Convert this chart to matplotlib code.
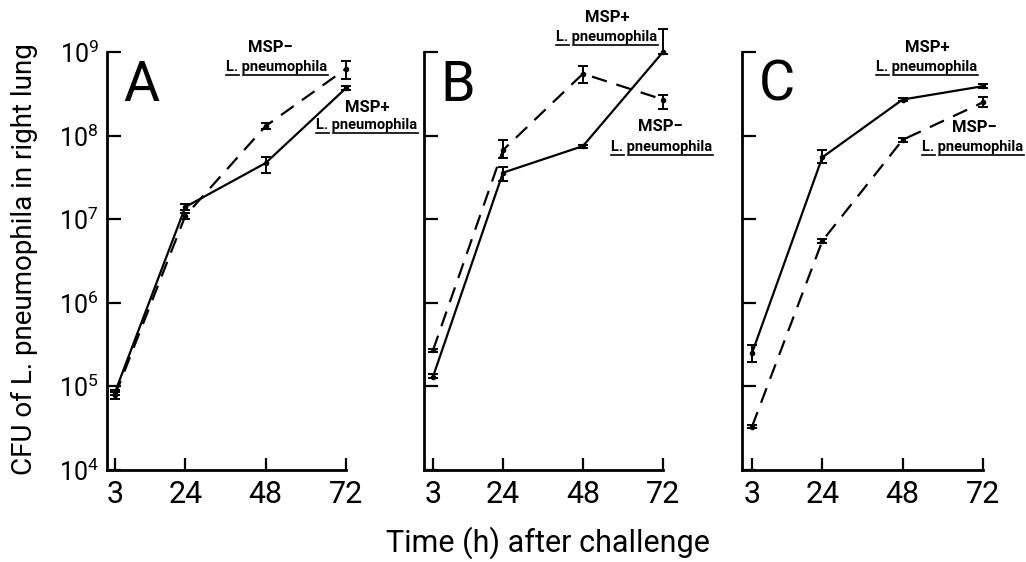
import numpy as np
import matplotlib
matplotlib.use("Agg")
import matplotlib.pyplot as plt
from matplotlib.lines import Line2D

plt.rcParams['font.family'] = ['Roboto', 'DejaVu Sans']
plt.rcParams['mathtext.fontset'] = 'custom'
plt.rcParams['mathtext.rm'] = 'Roboto'
plt.rcParams['mathtext.it'] = 'Roboto'

# temps (h) apres l'infection
hours = [3, 24, 48, 72]

# Panel A
a_plus = [8.5e4, 1.4e7, 4.7e7, 3.7e8]
a_plus_lo = [8.0e4, 1.3e7, 3.6e7, 3.5e8]
a_plus_hi = [9.0e4, 1.5e7, 5.5e7, 3.9e8]
a_minus = [7.8e4, 1.1e7, 1.3e8, 6.3e8]
a_minus_lo = [7.0e4, 1.0e7, 1.2e8, 4.8e8]
a_minus_hi = [8.6e4, 1.2e7, 1.4e8, 7.8e8]

# Panel B
b_plus = [1.3e5, 3.6e7, 7.5e7, 1.0e9]
b_plus_lo = [1.25e5, 2.9e7, 7.2e7, 0.95e9]
b_plus_hi = [1.4e5, 4.2e7, 7.8e7, 1.9e9]
b_minus = [2.7e5, 6.7e7, 5.5e8, 2.7e8]
b_minus_lo = [2.6e5, 5.4e7, 4.2e8, 2.1e8]
b_minus_hi = [2.8e5, 8.9e7, 6.8e8, 3.1e8]

# Panel C
c_plus = [2.5e5, 5.5e7, 2.7e8, 3.9e8]
c_plus_lo = [1.95e5, 4.7e7, 2.6e8, 3.7e8]
c_plus_hi = [3.1e5, 6.7e7, 2.85e8, 4.1e8]
c_minus = [3.3e4, 5.5e6, 8.9e7, 2.5e8]
c_minus_lo = [3.2e4, 5.2e6, 8.5e7, 2.2e8]
c_minus_hi = [3.45e4, 5.8e6, 9.3e7, 2.9e8]

panel_letters = ['A', 'B', 'C']
y_ticks = [1e4, 1e5, 1e6, 1e7, 1e8, 1e9]
y_ticklabels = [r'$10^{%d}$' % k for k in range(4, 10)]

W, H = 1026, 562
fig = plt.figure(figsize=(W / 100, H / 100), dpi=100)

lefts = [107, 424, 742]
widths = [239, 239, 241]
offsets = [8, 9, 10]  # distance axe -> graduation 3 h, en px
top_px, bot_px = 52, 470

panels = [
    (a_plus, a_plus_lo, a_plus_hi, a_minus, a_minus_lo, a_minus_hi),
    (b_plus, b_plus_lo, b_plus_hi, b_minus, b_minus_lo, b_minus_hi),
    (c_plus, c_plus_lo, c_plus_hi, c_minus, c_minus_lo, c_minus_hi),
]

for i, (p, plo, phi, m, mlo, mhi) in enumerate(panels):
    ax = fig.add_axes([lefts[i] / W, 1 - bot_px / H, widths[i] / W, (bot_px - top_px) / H])
    ax.set_xlim(3 - offsets[i] / 3.35, 72)
    ax.set_yscale('log')
    ax.set_ylim(1e4, 1e9)

    p = np.array(p)
    m = np.array(m)
    ax.errorbar(hours, p, yerr=[p - np.array(plo), np.array(phi) - p], color='black',
                lw=1.6, marker='o', ms=3, capsize=3.5, elinewidth=1.4, capthick=1.4,
                clip_on=False, zorder=3)
    ax.errorbar(hours, m, yerr=[m - np.array(mlo), np.array(mhi) - m], color='black',
                lw=1.6, marker='o', ms=3, capsize=3.5, elinewidth=1.4, capthick=1.4,
                linestyle=(0, (7, 4.5)), clip_on=False, zorder=3)

    for s in ['top', 'right']:
        ax.spines[s].set_visible(False)
    for s in ['left', 'bottom']:
        ax.spines[s].set_linewidth(2.0)
    ax.set_xticks(hours)
    ax.set_xticklabels([str(h) for h in hours])
    ax.set_yticks(y_ticks)
    ax.yaxis.set_minor_locator(matplotlib.ticker.NullLocator())
    if i == 0:
        ax.set_yticklabels(y_ticklabels)
    else:
        ax.set_yticklabels([])
    ax.tick_params(axis='x', direction='in', length=9, width=1.6, labelsize=22, pad=7)
    ax.tick_params(axis='y', direction='in', length=10, width=1.6, labelsize=18, pad=6)

    ax.text(0.07, 0.92, panel_letters[i], transform=ax.transAxes, fontsize=40,
            ha='left', va='center')

fig.text(24 / W, 1 - 259 / H, 'CFU of L. pneumophila in right lung', rotation=90,
         ha='center', va='center', fontsize=20)
fig.text(548 / W, 1 - 543 / H, 'Time (h) after challenge', ha='center', va='center',
         fontsize=22)

# etiquettes des courbes
labels = [
    ('MSP\u2212', 270, 48, 277, 67),
    ('MSP+', 367, 107, 367, 125),
    ('MSP+', 607, 18, 607, 37),
    ('MSP\u2212', 660, 126, 662, 147),
    ('MSP+', 927, 48, 927, 67),
    ('MSP\u2212', 974, 127, 973, 147),
]
lab_size = 10.5
species = []
for name, x1, y1, x2, y2 in labels:
    fig.text(x1 / W, 1 - y1 / H, name, ha='center', va='center', fontsize=12,
             fontweight='bold')
    t = fig.text(x2 / W, 1 - y2 / H, 'L. pneumophila', ha='center', va='center',
                 fontsize=lab_size, fontweight='bold')
    species.append(t)

# soulignement de "L." et "pneumophila"
fig.canvas.draw()
r = fig.canvas.get_renderer()
probe = fig.text(0.5, 0.5, 'L.', fontsize=lab_size, fontweight='bold')
w_l = probe.get_window_extent(r).width
probe.remove()
gap = 0.28 * lab_size * 100 / 72
for t in species:
    bb = t.get_window_extent(r)
    yline = bb.y0 - 0.5
    for xa, xb in [(bb.x0, bb.x0 + w_l), (bb.x0 + w_l + gap, bb.x1)]:
        fig.add_artist(Line2D([xa / W, xb / W], [yline / H, yline / H], color='black',
                              lw=1.2, transform=fig.transFigure))

fig.savefig('out.png', dpi=100)
